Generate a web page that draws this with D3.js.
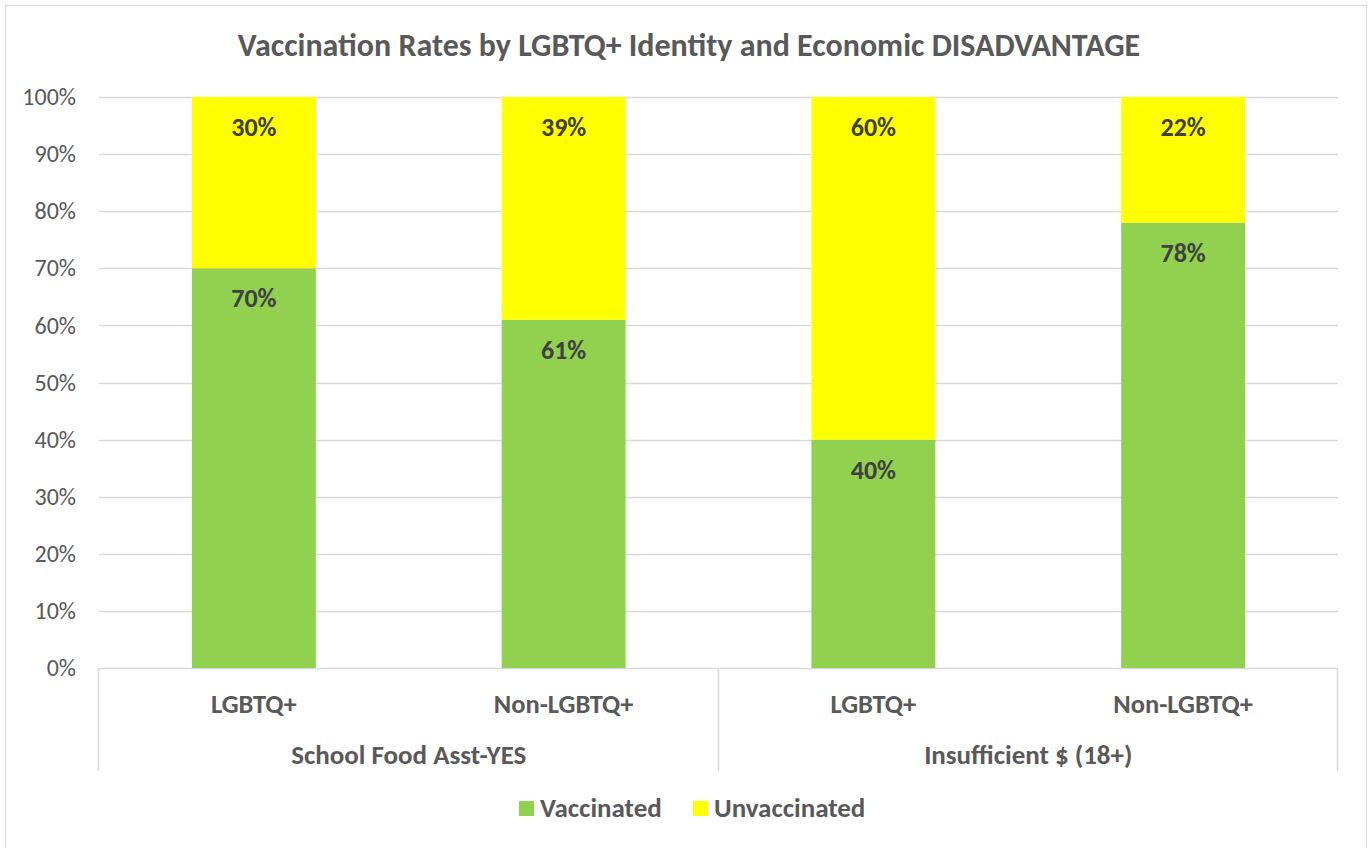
<!DOCTYPE html>
<html>
<head>
<meta charset="utf-8">
<script src="https://cdn.jsdelivr.net/npm/d3@7"></script>
<style>
  body { margin: 0; background: #fff; }
  svg text { font-family: Carlito, Lato, "Liberation Sans", sans-serif; }
</style>
</head>
<body>
<script>
// Chart data
var groups = ['School Food Asst-YES', 'Insufficient $ (18+)'];
var subgroups = ['LGBTQ+', 'Non-LGBTQ+'];
var vaccinated = [70, 61, 40, 78];
var unvaccinated = [30, 39, 60, 22];
var seriesNames = ['Vaccinated', 'Unvaccinated'];
var seriesColors = ['#92d050', '#ffff00'];
var yTicks = [0, 10, 20, 30, 40, 50, 60, 70, 80, 90, 100];

var width = 1369, height = 848;
var plot = { left: 99, right: 1338, top: 97, bottom: 668 };

var svg = d3.select('body').append('svg')
  .attr('width', width)
  .attr('height', height);

// outer chart border
svg.append('rect')
  .attr('x', 5.5).attr('y', 5.5)
  .attr('width', 1361).attr('height', 850)
  .attr('fill', '#fff')
  .attr('stroke', '#d9d9d9');

svg.append('text')
  .attr('x', 689).attr('y', 56)
  .attr('text-anchor', 'middle')
  .attr('font-size', 32).attr('font-weight', 'bold')
  .attr('fill', '#595959')
  .text('Vaccination Rates by LGBTQ+ Identity and Economic DISADVANTAGE');

// build rows: one per bar
var rows = [];
groups.forEach(function(g, gi) {
  subgroups.forEach(function(s, si) {
    var i = gi * subgroups.length + si;
    rows.push({ id: i, group: g, sub: s, Vaccinated: vaccinated[i], Unvaccinated: unvaccinated[i] });
  });
});

var x = d3.scaleBand()
  .domain(rows.map(function(d) { return d.id; }))
  .range([plot.left, plot.right]);

var y = d3.scaleLinear()
  .domain([0, 100])
  .range([plot.bottom, plot.top]);

var color = d3.scaleOrdinal().domain(seriesNames).range(seriesColors);

// gridlines
svg.append('g')
  .selectAll('line')
  .data(yTicks)
  .enter().append('line')
  .attr('x1', plot.left).attr('x2', plot.right)
  .attr('y1', function(d) { return Math.round(y(d)) + 0.5; })
  .attr('y2', function(d) { return Math.round(y(d)) + 0.5; })
  .attr('stroke', '#d9d9d9')
  .attr('stroke-width', 1.5);

// y axis labels
var yAxis = svg.append('g')
  .attr('transform', 'translate(' + plot.left + ',0)')
  .call(d3.axisLeft(y).tickValues(yTicks).tickFormat(function(d) { return d + '%'; }).tickSize(0).tickPadding(23));
yAxis.select('.domain').remove();
yAxis.selectAll('text')
  .attr('font-size', 24)
  .attr('fill', '#595959')
  .style('font-family', 'Carlito, Lato, "Liberation Sans", sans-serif');

// stacked bars
var stack = d3.stack().keys(seriesNames);
var layers = stack(rows);
var barW = x.bandwidth() * 0.4;

var layer = svg.selectAll('g.layer')
  .data(layers)
  .enter().append('g')
  .attr('class', 'layer')
  .attr('fill', function(d) { return color(d.key); });

layer.selectAll('rect')
  .data(function(d) { return d; })
  .enter().append('rect')
  .attr('x', function(d) { return x(d.data.id) + (x.bandwidth() - barW) / 2; })
  .attr('width', barW)
  .attr('y', function(d) { return y(d[1]); })
  .attr('height', function(d) { return y(d[0]) - y(d[1]); });

// data labels (inside end)
layer.selectAll('text')
  .data(function(d) { return d; })
  .enter().append('text')
  .attr('x', function(d) { return x(d.data.id) + x.bandwidth() / 2; })
  .attr('y', function(d) { return y(d[1]) + 39; })
  .attr('text-anchor', 'middle')
  .attr('font-size', 26).attr('font-weight', 'bold')
  .attr('fill', '#404040')
  .text(function(d) { return (d[1] - d[0]) + '%'; });

// category axis: subgroup labels
svg.append('g')
  .selectAll('text')
  .data(rows)
  .enter().append('text')
  .attr('x', function(d) { return x(d.id) + x.bandwidth() / 2; })
  .attr('y', 713)
  .attr('text-anchor', 'middle')
  .attr('font-size', 26.5).attr('font-weight', 'bold')
  .attr('fill', '#595959')
  .text(function(d) { return d.sub; });

// group labels
var groupW = (plot.right - plot.left) / groups.length;
svg.append('g')
  .selectAll('text')
  .data(groups)
  .enter().append('text')
  .attr('x', function(d, i) { return plot.left + groupW * (i + 0.5); })
  .attr('y', 764)
  .attr('text-anchor', 'middle')
  .attr('font-size', 27).attr('font-weight', 'bold')
  .attr('fill', '#595959')
  .text(function(d) { return d; });

// group separators
svg.append('g')
  .selectAll('line')
  .data(d3.range(groups.length + 1))
  .enter().append('line')
  .attr('x1', function(i) { return Math.round(plot.left + groupW * i) - 0.5; })
  .attr('x2', function(i) { return Math.round(plot.left + groupW * i) - 0.5; })
  .attr('y1', plot.bottom)
  .attr('y2', 771)
  .attr('stroke', '#d9d9d9')
  .attr('stroke-width', 1.5);

// legend
var legendX = [519, 693];
var legend = svg.append('g')
  .selectAll('g')
  .data(seriesNames)
  .enter().append('g')
  .attr('transform', function(d, i) { return 'translate(' + legendX[i] + ',801)'; });

legend.append('rect')
  .attr('x', 0).attr('y', 0)
  .attr('width', 15).attr('height', 15)
  .attr('fill', function(d) { return color(d); });

legend.append('text')
  .attr('x', 21).attr('y', 16)
  .attr('font-size', 27).attr('font-weight', 'bold')
  .attr('fill', '#595959')
  .text(function(d) { return d; });
</script>
</body>
</html>
